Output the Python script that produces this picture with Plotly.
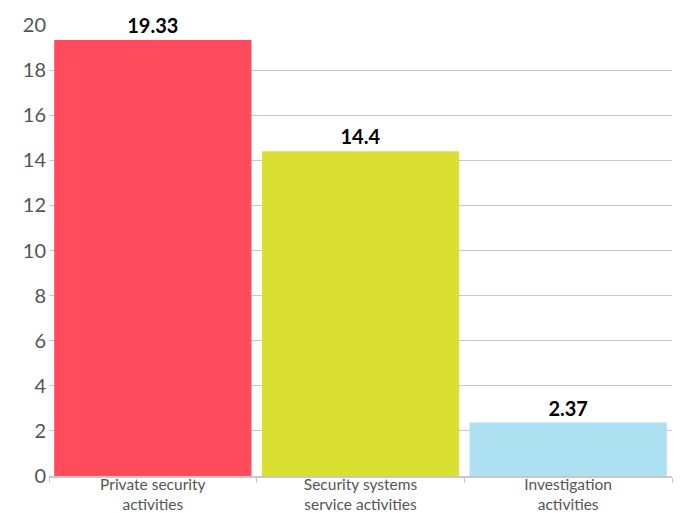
import plotly.graph_objects as go

categories = ["Private security<br>activities", "Security systems<br>service activities", "Investigation<br>activities"]
values = [19.33, 14.4, 2.37]
labels = ["19.33", "14.4", "2.37"]
colors = ["#FF4B5C", "#D9E032", "#ADE1F2"]

fig = go.Figure(go.Bar(
    x=categories, y=values, marker=dict(color=colors, line=dict(width=0)),
    text=labels, textposition="outside", cliponaxis=False,
    textfont=dict(family="Lato", size=20, color="#000000", weight="bold"),
))
fig.update_layout(
    width=681, height=513,
    margin=dict(l=49, r=9, t=25, b=37),
    paper_bgcolor="white", plot_bgcolor="white",
    bargap=0.05, showlegend=False,
    font=dict(family="Lato", color="#555555"),
)
fig.update_yaxes(range=[0, 20], dtick=2, showgrid=True, gridcolor="#C8C8C8", gridwidth=1,
                 zeroline=False, tickfont=dict(size=20, color="#555555"),
                 ticks="", ticklen=0, showline=False, automargin=False, ticklabelstandoff=2)
fig.update_xaxes(showline=True, linecolor="#C8C8C8", linewidth=2, ticks="outside",
                 tickson="boundaries", ticklen=5, tickcolor="#C8C8C8", automargin=False,
                 ticklabelstandoff=-7,
                 tickfont=dict(size=15.5, color="#555555"))
fig.write_html("out.html", config={"displayModeBar": False},
               post_script="document.body.style.margin='0px';")
